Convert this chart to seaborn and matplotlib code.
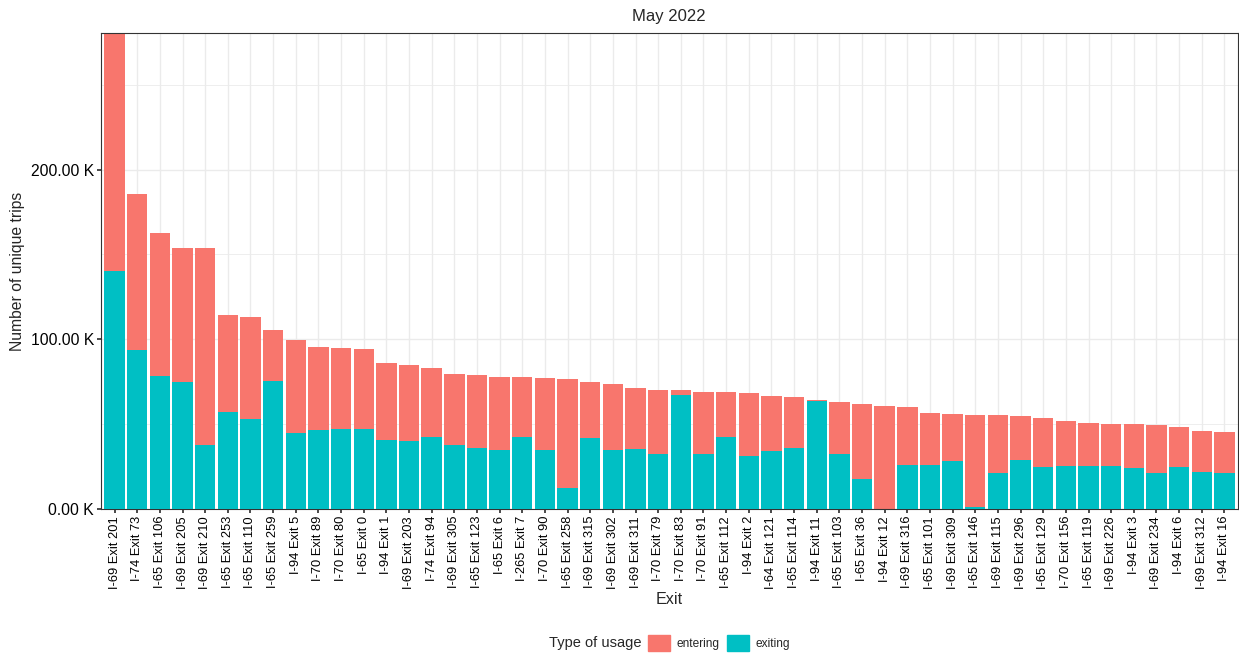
import matplotlib
matplotlib.use("Agg")
import matplotlib.pyplot as plt
import matplotlib.patches as mpatches
from matplotlib.ticker import FuncFormatter, MultipleLocator
import seaborn as sns
import pandas as pd

exits = ["I-69 Exit 201", "I-74 Exit 73", "I-65 Exit 106", "I-69 Exit 205", "I-69 Exit 210",
         "I-65 Exit 253", "I-65 Exit 110", "I-65 Exit 259", "I-94 Exit 5", "I-70 Exit 89",
         "I-70 Exit 80", "I-65 Exit 0", "I-94 Exit 1", "I-69 Exit 203", "I-74 Exit 94",
         "I-69 Exit 305", "I-65 Exit 123", "I-65 Exit 6", "I-265 Exit 7", "I-70 Exit 90",
         "I-65 Exit 258", "I-69 Exit 315", "I-69 Exit 302", "I-69 Exit 311", "I-70 Exit 79",
         "I-70 Exit 83", "I-70 Exit 91", "I-65 Exit 112", "I-94 Exit 2", "I-64 Exit 121",
         "I-65 Exit 114", "I-94 Exit 11", "I-65 Exit 103", "I-65 Exit 36", "I-94 Exit 12",
         "I-69 Exit 316", "I-65 Exit 101", "I-69 Exit 309", "I-65 Exit 146", "I-69 Exit 115",
         "I-69 Exit 296", "I-65 Exit 129", "I-70 Exit 156", "I-65 Exit 119", "I-69 Exit 226",
         "I-94 Exit 3", "I-69 Exit 234", "I-94 Exit 6", "I-69 Exit 312", "I-94 Exit 16"]

# values in thousands of trips
exiting = [140.0, 93.7, 78.6, 75.0, 37.5, 57.2, 53.0, 75.6, 44.8, 46.7,
           47.1, 47.1, 40.7, 40.3, 42.2, 37.9, 36.1, 35.0, 42.6, 34.8,
           12.2, 41.6, 34.8, 35.4, 32.4, 67.4, 32.6, 42.2, 31.0, 34.2,
           36.1, 63.5, 32.4, 17.5, 0.2, 25.9, 25.9, 28.1, 1.2, 21.0,
           28.7, 24.6, 25.5, 25.1, 25.1, 24.2, 21.0, 24.6, 22.0, 21.0]
entering = [141.0, 91.9, 83.9, 78.6, 116.1, 57.1, 60.1, 29.7, 55.0, 48.8,
            47.8, 47.4, 45.1, 44.3, 40.9, 41.7, 42.7, 43.0, 35.4, 42.2,
            64.6, 33.1, 38.7, 35.9, 37.5, 2.5, 36.1, 26.5, 37.2, 32.4,
            30.1, 0.7, 30.7, 44.2, 60.3, 34.0, 30.5, 27.7, 54.2, 34.4,
            26.1, 29.2, 26.2, 25.6, 25.2, 26.1, 28.7, 23.7, 24.2, 24.6]

title = "May 2022"
legend_title = "Type of usage"
usage_types = ["entering", "exiting"]
colors = {"entering": "#F8766D", "exiting": "#00BFC4"}

df = pd.DataFrame({"Exit": exits,
                   "exiting": [e * 1000 for e in exiting],
                   "entering": [n * 1000 for n in entering]})
df["total"] = df["exiting"] + df["entering"]

sns.set_theme(style="white")
plt.rcParams["font.family"] = ["Liberation Sans", "DejaVu Sans"]

W, H = 1239, 653
fig = plt.figure(figsize=(W / 100, H / 100), dpi=100)
ax = fig.add_axes([101 / W, 1 - 509 / H, (1238 - 101) / W, (509 - 33) / H])

sns.barplot(data=df, x="Exit", y="total", color=colors["entering"], width=0.9,
            saturation=1, linewidth=0, ax=ax, order=exits, zorder=2)
sns.barplot(data=df, x="Exit", y="exiting", color=colors["exiting"], width=0.9,
            saturation=1, linewidth=0, ax=ax, order=exits, zorder=3)

ax.set_ylim(0, 280500)
ax.set_xlim(-0.6, len(exits) - 0.4)
ax.yaxis.set_major_locator(MultipleLocator(100000))
ax.yaxis.set_minor_locator(MultipleLocator(50000))
ax.yaxis.set_major_formatter(FuncFormatter(lambda v, p: f"{v / 1000:.2f} K"))
ax.grid(True, which="major", axis="both", color="#EBEBEB", linewidth=1.0, zorder=0)
ax.grid(True, which="minor", axis="y", color="#EBEBEB", linewidth=0.6, zorder=0)
ax.set_axisbelow(True)

for s in ax.spines.values():
    s.set_visible(True)
    s.set_color("#333333")
    s.set_linewidth(0.8)

ax.tick_params(axis="x", which="major", rotation=90, labelsize=9.3, length=3,
               color="#333333", labelcolor="black", pad=2, bottom=True)
ax.tick_params(axis="y", which="major", labelsize=11.3, length=3,
               color="#333333", labelcolor="black", pad=2, left=True)
ax.tick_params(axis="y", which="minor", length=0)

ax.set_xlabel("")
ax.set_ylabel("")
fig.text(669 / W, 1 - 600 / H, "Exit", fontsize=11.6, ha="center", va="center")
fig.text(18 / W, 1 - 271 / H, "Number of unique trips", fontsize=11.3,
         ha="center", va="center", rotation=90)
fig.text(669 / W, 1 - 16 / H, title, fontsize=12, ha="center", va="center")

fig.text(549 / W, 1 - 643 / H, legend_title, fontsize=10.5, va="center", ha="left")
handles = [mpatches.Patch(color=colors[u], label=u) for u in usage_types]
fig.legend(handles=handles, loc="center left", bbox_to_anchor=(647 / W, 1 - 643 / H),
           ncol=2, frameon=False, fontsize=8.6, handlelength=1.8, handleheight=1.8,
           handletextpad=0.6, columnspacing=0.6, borderaxespad=0, borderpad=0.1)

fig.savefig("out.png", dpi=100)
